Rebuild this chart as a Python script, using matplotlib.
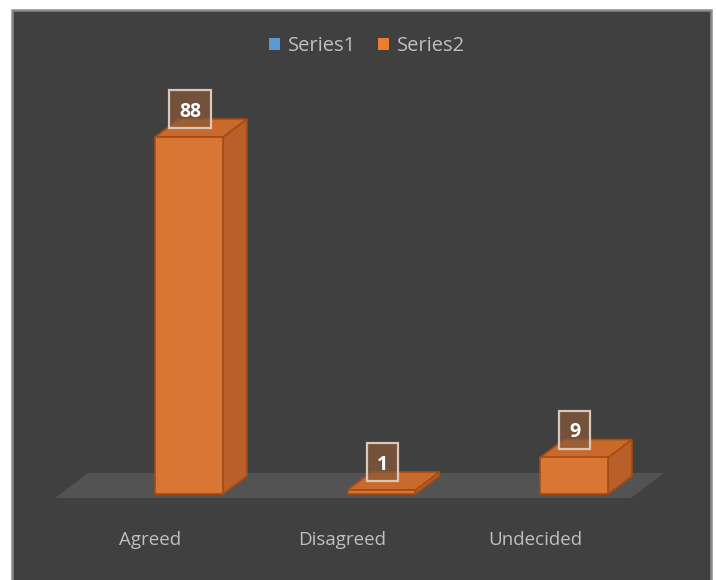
import numpy as np
import matplotlib
matplotlib.use("Agg")
import matplotlib.pyplot as plt
from matplotlib.patches import Polygon, Rectangle, Patch

categories = ["Agreed", "Disagreed", "Undecided"]
series2 = [88, 1, 9]
series_names = ["Series1", "Series2"]
series_colors = ["#5b9bd5", "#ed7d31"]

plt.rcParams['font.family'] = ['Open Sans', 'DejaVu Sans']

W, H = 716, 580
fig = plt.figure(figsize=(W / 100, H / 100), dpi=100, facecolor='white')

# dark chart area with grey frame (runs off the bottom edge)
frame = Rectangle((12 / W, -0.05), (711 - 12) / W, 1.05 - 10 / H,
                  transform=fig.transFigure, facecolor='#404040',
                  edgecolor='#8a8a8a', lw=1.8, zorder=-1)
fig.patches.append(frame)

# axes over the whole figure; scale chosen so bars sit like the original
ax = fig.add_axes([0, 0, 1, 1])
ax.patch.set_alpha(0)
px_per_cat = 192.5
px_per_unit = 4.057
x0_px, y0_px = 189, 494
ax.set_xlim(-x0_px / px_per_cat, (W - x0_px) / px_per_cat)
ax.set_ylim((y0_px - H) / px_per_unit, y0_px / px_per_unit)
ax.axis('off')

pos = np.arange(len(categories))
bw = 0.353
dx = 24 / px_per_cat
dy = 18 / px_per_unit

# floor
fdx = 33 / px_per_cat
f_lo = -4 / px_per_unit
f_hi = 21 / px_per_unit
fl, fr = -0.696, 2.296
ax.add_patch(Polygon([(fl, f_lo), (fr, f_lo), (fr + fdx, f_hi), (fl + fdx, f_hi)],
                     closed=True, facecolor='#535353', edgecolor='none', zorder=1))

edge = '#a34c14'
for p, v in zip(pos, series2):
    left = p - bw / 2
    right = p + bw / 2
    side = [(right, 0), (right + dx, dy), (right + dx, v + dy), (right, v)]
    top = [(left, v), (right, v), (right + dx, v + dy), (left + dx, v + dy)]
    ax.add_patch(Polygon(side, closed=True, facecolor='#b9602a', edgecolor=edge,
                         lw=1.2, zorder=2))
    ax.add_patch(Polygon(top, closed=True, facecolor='#c9692b', edgecolor=edge,
                         lw=1.2, zorder=2))

ax.bar(pos, series2, width=bw, color='#da7633', edgecolor=edge, lw=1.2, zorder=3)

# data labels in boxes
for p, v in zip(pos, series2):
    lab = str(v)
    cy = v + 27.5 / px_per_unit
    bwid = (20 + 11 * len(lab)) / px_per_cat
    bhgt = 38 / px_per_unit
    ax.add_patch(Rectangle((p + 0.005 - bwid / 2, cy - bhgt / 2), bwid, bhgt,
                           facecolor='#8a5a3a', alpha=0.7, edgecolor='none', zorder=4))
    ax.add_patch(Rectangle((p + 0.005 - bwid / 2, cy - bhgt / 2), bwid, bhgt,
                           facecolor='none', edgecolor='#d8c8bc', lw=1.6, zorder=4))
    ax.text(p + 0.005, cy, lab, ha='center', va='center_baseline',
            color='white', fontsize=14, fontweight='bold', zorder=5)

# category labels
for p, c in zip(pos, categories):
    ax.text(p - 39 / px_per_cat, -51 / px_per_unit, c, ha='center', va='baseline',
            color='#bfbfbf', fontsize=13.5)

handles = [Patch(facecolor=c, edgecolor='none') for c in series_colors]
leg = fig.legend(handles, series_names, loc='center', bbox_to_anchor=(367 / W, 1 - 46 / H),
                 ncol=2, frameon=False, fontsize=14.5, labelcolor='#bfbfbf',
                 handlelength=0.55, handleheight=0.55, handletextpad=0.4, columnspacing=1.1)

fig.savefig("out.png", dpi=100, facecolor='white')
